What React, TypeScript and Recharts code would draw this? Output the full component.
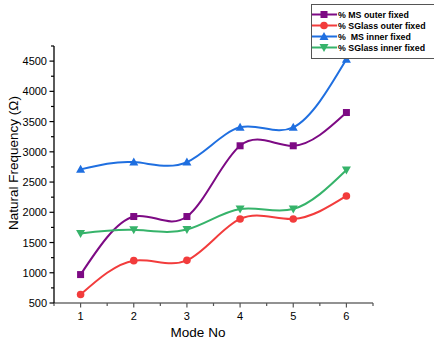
import { LineChart, Line, XAxis, YAxis, Label } from 'recharts';

const modes = [1, 2, 3, 4, 5, 6];
const msOuter = [970, 1930, 1930, 3100, 3100, 3650];
const sglassOuter = [640, 1200, 1205, 1890, 1890, 2270];
const msInner = [2710, 2830, 2830, 3405, 3405, 4530];
const sglassInner = [1650, 1710, 1715, 2055, 2055, 2700];

const xTicks = [0.5, 1, 1.5, 2, 2.5, 3, 3.5, 4, 4.5, 5, 5.5, 6, 6.5];
const yTicks = [500, 750, 1000, 1250, 1500, 1750, 2000, 2250, 2500, 2750, 3000, 3250, 3500, 3750, 4000, 4250, 4500, 4750];

const SERIES = [
  { key: 'msOuter', name: '% MS outer fixed', color: '#7d0a84', shape: 'square', values: msOuter },
  { key: 'sglassOuter', name: '% SGlass outer fixed', color: '#f23c3c', shape: 'circle', values: sglassOuter },
  { key: 'msInner', name: '%  MS inner fixed', color: '#1f6fe0', shape: 'up', values: msInner },
  { key: 'sglassInner', name: '% SGlass inner fixed', color: '#36b36a', shape: 'down', values: sglassInner },
];

const data = modes.map((m, i) => {
  const row: any = { mode: m };
  SERIES.forEach((s) => { row[s.key] = s.values[i]; });
  return row;
});

const FONT = 'Arial, "Liberation Sans", sans-serif';

function Marker({ cx, cy, shape, color }: any) {
  if (cx == null || cy == null) return null;
  if (shape === 'square') return <rect x={cx - 3.5} y={cy - 3.5} width={7} height={7} fill={color} />;
  if (shape === 'circle') return <circle cx={cx} cy={cy} r={3.8} fill={color} />;
  if (shape === 'up') return <polygon points={`${cx},${cy - 4.5} ${cx - 4.5},${cy + 3.5} ${cx + 4.5},${cy + 3.5}`} fill={color} />;
  return <polygon points={`${cx},${cy + 4.5} ${cx - 4.5},${cy - 3.5} ${cx + 4.5},${cy - 3.5}`} fill={color} />;
}

function XTick({ x, y, payload }: any) {
  const v = payload.value;
  const major = Number.isInteger(v);
  return (
    <g>
      <line x1={x} x2={x} y1={y} y2={y + (major ? 4.5 : 3)} stroke="#555" strokeWidth={1.2} />
      {major && (
        <text x={x} y={y + 17} textAnchor="middle" fontSize={11} fontFamily={FONT} fill="#000">{v}</text>
      )}
    </g>
  );
}

function YTick({ x, y, payload }: any) {
  const v = payload.value;
  const major = v % 500 === 0;
  return (
    <g>
      <line x1={x - (major ? 4.5 : 3)} x2={x} y1={y} y2={y} stroke="#000" strokeWidth={1.2} />
      {major && (
        <text x={x - 7} y={y + 4} textAnchor="end" fontSize={11} fontFamily={FONT} fill="#000">{v}</text>
      )}
    </g>
  );
}

function LegendBox() {
  return (
    <div style={{
      position: 'absolute', left: 311, top: 4, width: 140, padding: '4px 0 5px 0',
      border: '1px solid #555', background: '#fff', fontFamily: FONT, fontWeight: 'bold', fontSize: 8.8,
    }}>
      {SERIES.map((s) => (
        <div key={s.key} style={{ display: 'flex', alignItems: 'center', height: 11, whiteSpace: 'pre' }}>
          <svg width={25} height={11} style={{ flex: 'none' }}>
            <line x1={0} x2={25} y1={5.5} y2={5.5} stroke={s.color} strokeWidth={2} />
            <Marker cx={12} cy={5.5} shape={s.shape} color={s.color} />
          </svg>
          <span style={{ marginLeft: 1, color: '#000' }}>{s.name}</span>
        </div>
      ))}
    </div>
  );
}

export default function App() {
  return (
    <div style={{ position: 'absolute', left: 0, top: 0, width: 434, height: 340, overflow: 'hidden', background: '#fff' }}>
      <LineChart width={434} height={340} data={data} margin={{ top: 46, right: 61, bottom: 0, left: 0 }}>
        <XAxis
          dataKey="mode"
          type="number"
          domain={[0.5, 6.5]}
          ticks={xTicks}
          interval={0}
          height={37}
          tickSize={0}
          tickMargin={0}
          tickLine={false}
          tick={<XTick />}
          axisLine={{ stroke: '#6e6e6e', strokeWidth: 1.5 }}
        >
          <Label
            content={() => (
              <text x={198} y={337} textAnchor="middle" fontSize={13.5} fontFamily={FONT} fill="#000">Mode No</text>
            )}
          />
        </XAxis>
        <YAxis
          type="number"
          domain={[500, 4750]}
          ticks={yTicks}
          interval={0}
          width={54}
          tickSize={0}
          tickMargin={0}
          tickLine={false}
          tick={<YTick />}
          axisLine={{ stroke: '#000', strokeWidth: 1.3 }}
        >
          <Label
            content={() => (
              <text x={18} y={163} transform="rotate(-90 18 163)" textAnchor="middle" fontSize={13.5} fontFamily={FONT} fill="#000">
                Natural Frequency (Ω)
              </text>
            )}
          />
        </YAxis>
        {SERIES.map((s) => (
          <Line
            key={s.key}
            dataKey={s.key}
            name={s.name}
            type="natural"
            stroke={s.color}
            strokeWidth={2}
            isAnimationActive={false}
            dot={(p: any) => <Marker key={`${s.key}-${p.index}`} cx={p.cx} cy={p.cy} shape={s.shape} color={s.color} />}
            activeDot={false}
          />
        ))}
      </LineChart>
      <LegendBox />
    </div>
  );
}
